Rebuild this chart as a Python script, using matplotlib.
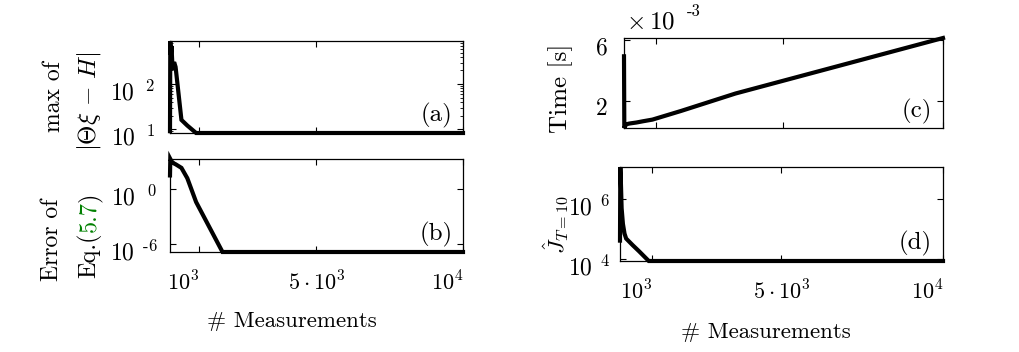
import numpy as np
import matplotlib
matplotlib.use("Agg")
import matplotlib.pyplot as plt
from matplotlib.ticker import FixedLocator, NullFormatter
from matplotlib.transforms import ScaledTranslation

plt.rcParams['font.family'] = 'serif'
plt.rcParams['font.serif'] = ['cmr10', 'DejaVu Serif']
plt.rcParams['mathtext.fontset'] = 'cm'
plt.rcParams['axes.unicode_minus'] = False
plt.rcParams['axes.formatter.use_mathtext'] = True

# DATA
measurements = [10, 20, 40, 60, 100, 150, 200, 400, 600, 900, 1800, 3500, 10000]
max_residual = [9, 900, 450, 700, 205, 306, 240, 16, 12, 8.2, 8.2, 8.2, 8.2]          # (a)
eq_error = [30, 1860, 1400, 1000, 800, 600, 500, 200, 15, 0.038, 1.35e-7, 1.35e-7, 1.35e-7]  # (b)
time_s = [4.9e-3, 0.2e-3, 0.3e-3, 0.4e-3, 0.45e-3, 0.48e-3, 0.5e-3, 0.56e-3, 0.64e-3, 0.75e-3,
          1.32e-3, 2.46e-3, 6.1e-3]                                                    # (c)
j_hat = [4.1e4, 1.2e7, 3e6, 5e5, 1.5e5, 7e4, 4.8e4, 2.9e4, 1.8e4, 8.5e3, 8.5e3, 8.5e3, 8.5e3]  # (d)

x_ticks = [1000, 5000, 10000]
x_ticklabels = [r'$10^3$', r'$5\cdot10^3$', r'$10^4$']

W, H = 1020, 352
fig = plt.figure(figsize=(W / 100, H / 100), dpi=100)


def box(l, t, r, b):
    # pixel box -> figure fraction
    return [l / W, 1 - b / H, (r - l) / W, (b - t) / H]


ax_a = fig.add_axes(box(170, 41, 463, 133))
ax_b = fig.add_axes(box(170, 159, 463, 252))
ax_c = fig.add_axes(box(624, 38, 943, 128))
ax_d = fig.add_axes(box(620, 167, 943, 261))

series = [(ax_a, max_residual, 'log', '(a)'),
          (ax_b, eq_error, 'log', '(b)'),
          (ax_c, time_s, 'linear', '(c)'),
          (ax_d, j_hat, 'log', '(d)')]

for ax, vals, scale, tag in series:
    ax.plot(measurements, vals, color='black', lw=3, clip_on=False, solid_joinstyle='miter')
    ax.set_yscale(scale)
    ax.set_xlim(measurements[0], measurements[-1])
    ax.set_ylim(min(vals), max(vals))
    ax.xaxis.set_major_locator(FixedLocator(x_ticks))
    ax.xaxis.set_minor_locator(FixedLocator([]))
    ax.tick_params(which='both', direction='in', top=True, right=True)
    ax.tick_params(which='major', length=4, width=0.8)
    ax.tick_params(which='minor', length=2, width=0.6)
    ax.yaxis.set_minor_formatter(NullFormatter())
    for s in ax.spines.values():
        s.set_linewidth(0.9)
    ax.text(0.965, 0.05, tag, transform=ax.transAxes, ha='right', va='bottom', fontsize=18)

# y ticks (MATLAB style "10  ^2")
ax_a.set_yticks([10, 100])
ax_a.set_yticklabels([r'$10^{\;\;\,1}$', r'$10^{\;\;\,2}$'])
ax_b.set_yticks([1e-6, 1])
ax_b.set_yticklabels([r'$10^{\;\;\text{-}6}$', r'$10^{\;\;\;0}$'])
ax_d.set_yticks([1e4, 1e6])
ax_d.set_yticklabels([r'$10^{\;\;4}$', r'$10^{\;\;6}$'])
ax_c.set_yticks([2e-3, 6e-3])
ax_c.set_yticklabels(['2', '6'])
ax_c.tick_params(axis='y', labelsize=17, pad=12)
ax_a.tick_params(axis='y', labelsize=17, pad=11)
ax_b.tick_params(axis='y', labelsize=17, pad=9)
ax_d.tick_params(axis='y', labelsize=17, pad=7)

shift_down = ScaledTranslation(0, -0.06, fig.dpi_scale_trans)
for ax in (ax_a, ax_b, ax_c, ax_d):
    for lab in ax.get_yticklabels():
        lab.set_transform(lab.get_transform() + shift_down)

# x tick labels only on the bottom panels
for ax in (ax_a, ax_c):
    ax.set_xticklabels([])
for ax in (ax_b, ax_d):
    ax.set_xticklabels(x_ticklabels, fontsize=16)
    labs = ax.get_xticklabels()
    labs[0].set_ha('right')
    labs[-1].set_ha('right')
    ax.tick_params(axis='x', pad=13)

# x labels
fig.text(292 / W, 1 - 321 / H, '# Measurements', ha='center', va='center', fontsize=16.5)
fig.text(766 / W, 1 - 332 / H, '# Measurements', ha='center', va='center', fontsize=16.5)

# y labels
fig.text(54 / W, 1 - 97 / H, 'max of', rotation=90, ha='center', va='center', fontsize=17)
fig.text(89 / W, 1 - 101 / H, r'$|\mathbf{\Theta\xi}\,-\,H|$', rotation=90,
         ha='center', va='center', fontsize=18)
fig.text(52 / W, 1 - 240 / H, 'Error of', rotation=90, ha='center', va='center', fontsize=17)
fig.text(561 / W, 1 - 88 / H, 'Time [s]', rotation=90, ha='center', va='center', fontsize=18)
fig.text(556 / W, 1 - 225 / H, r'$\hat{J}_{T=10}$', rotation=90, ha='center', va='center', fontsize=16.5)

# "Eq.(5.7)" with green reference number, built piece by piece
renderer = fig.canvas.get_renderer()
x_base = 95 / W
y_pos = 1 - 278 / H
for piece, col in [('Eq.(', 'black'), ('5.7', '#008000'), (')', 'black')]:
    t = fig.text(x_base, y_pos, piece, rotation=90, rotation_mode='anchor',
                 ha='left', va='baseline', fontsize=17.5, color=col)
    bb = t.get_window_extent(renderer)
    y_pos = fig.transFigure.inverted().transform((0, bb.y1))[1]

# offset text of (c)
fig.text(626 / W, 1 - 22 / H, r'$\times\,10$', ha='left', va='center', fontsize=18)
fig.text(687 / W, 1 - 11 / H, '-3', ha='left', va='center', fontsize=12)

fig.savefig('out.png', dpi=100)
